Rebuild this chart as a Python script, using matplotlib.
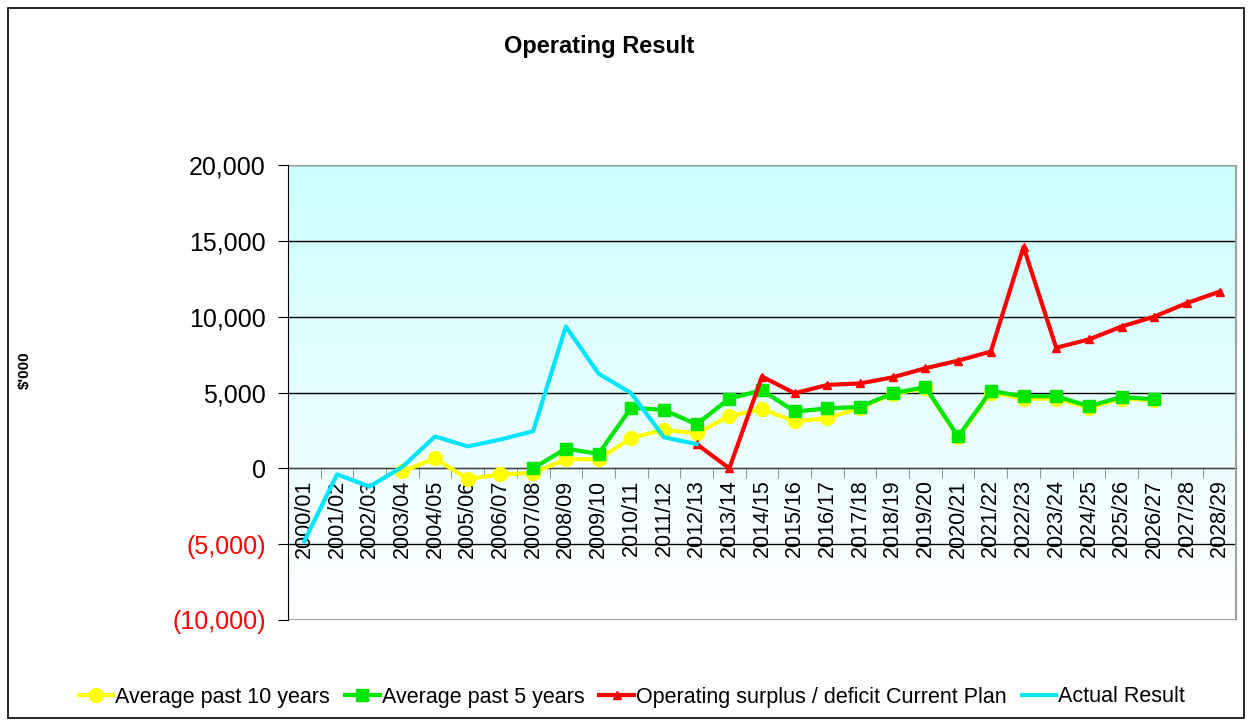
import numpy as np
import matplotlib.pyplot as plt
from matplotlib.patches import Rectangle
from matplotlib.ticker import FuncFormatter, MultipleLocator

plt.rcParams['font.family'] = ['Liberation Sans', 'DejaVu Sans']

years = ['2000/01', '2001/02', '2002/03', '2003/04', '2004/05', '2005/06', '2006/07',
         '2007/08', '2008/09', '2009/10', '2010/11', '2011/12', '2012/13', '2013/14',
         '2014/15', '2015/16', '2016/17', '2017/18', '2018/19', '2019/20', '2020/21',
         '2021/22', '2022/23', '2023/24', '2024/25', '2025/26', '2026/27', '2027/28',
         '2028/29']
nan = np.nan

avg10 = [nan, nan, nan, -200, 650, -700, -400, -300, 600, 600, 2000, 2550, 2300, 3450,
         3900, 3100, 3300, 4000, 4900, 5300, 2050, 5000, 4600, 4600, 4000, 4600, 4500,
         nan, nan]
avg5 = [nan, nan, nan, nan, nan, nan, nan, 0, 1300, 950, 4000, 3850, 2900, 4600,
        5150, 3750, 3950, 4050, 4950, 5350, 2100, 5100, 4750, 4750, 4100, 4700, 4550,
        nan, nan]
plan = [nan, nan, nan, nan, nan, nan, nan, nan, nan, nan, nan, nan, 1600, 0,
        6050, 4950, 5500, 5600, 6000, 6600, 7100, 7700, 14600, 7950, 8500, 9350, 10000,
        10900, 11650]
actual = [-4800, -400, -1200, 100, 2100, 1450, 1900, 2450, 9350, 6250, 4950, 2050, 1600,
          nan, nan, nan, nan, nan, nan, nan, nan, nan, nan, nan, nan, nan, nan, nan, nan]

x = np.arange(len(years))

fig = plt.figure(figsize=(12.48, 7.22), dpi=100)
ax = fig.add_axes([288 / 1248, 1 - 620 / 722, 948 / 1248, 455 / 722])

# background gradient, cyan at top fading to white
grad = np.linspace(0, 1, 256).reshape(-1, 1)
top = np.array([0.80, 1.0, 1.0])
bot = np.array([1.0, 1.0, 1.0])
img = top + (bot - top) * grad[:, :, None] * np.ones((1, 1, 3))
ax.imshow(img, extent=[0, 1, 0, 1], transform=ax.transAxes, aspect='auto', zorder=0)

ax.set_xlim(-0.5, len(years) - 0.5)
ax.set_ylim(-10000, 20000)
ax.yaxis.set_major_locator(MultipleLocator(5000))
for yv in range(-10000, 20001, 5000):
    ax.axhline(yv, color='black', lw=1, zorder=1)

ax.plot(x, avg10, color='#FFFF00', lw=3, marker='o', ms=10, label='Average past 10 years', zorder=3)
ax.plot(x, avg5, color='#00E600', lw=3, marker='s', ms=8, label='Average past 5 years', zorder=4)
ax.plot(x, plan, color='#FF0000', lw=3, marker='^', ms=6,
        label='Operating surplus / deficit Current Plan', zorder=5)
ax.plot(x, actual, color='#00E5FF', lw=3, label='Actual Result', zorder=6)

# axes styling
ax.spines['bottom'].set_position(('data', 0))
ax.spines['bottom'].set_color('#404040')
for s in ['top', 'right']:
    ax.spines[s].set_color('#A0A0A0')
ax.spines['left'].set_color('black')
ax.add_patch(Rectangle((0, 0), 1, 1, transform=ax.transAxes, fill=False,
                       edgecolor='#A0A0A0', lw=1.5, zorder=7))
ax.spines['left'].set_zorder(8)

ax.set_xticks(x)
ax.set_xticklabels(years, rotation=90, fontsize=15.5)
ax.set_xticks(np.arange(-0.5, len(years), 1), minor=True)
ax.tick_params(axis='x', which='major', length=0, pad=8)
ax.tick_params(axis='x', which='minor', length=7, color='#808080', direction='out')


def fmt(v, pos):
    if v < 0:
        return '({:,.0f})'.format(-v)
    return '{:,.0f}'.format(v)


ax.yaxis.set_major_formatter(FuncFormatter(fmt))
ax.tick_params(axis='y', labelsize=18, length=7, pad=9)
for lab, v in zip(ax.get_yticklabels(), ax.get_yticks()):
    if v < 0:
        lab.set_color('red')

fig.text(25 / 1248, 1 - 370 / 722, "$'000", rotation=90, ha='center', va='center',
         fontsize=11, fontweight='bold')
fig.text(599 / 1248, 1 - 46 / 722, 'Operating Result', ha='center', va='center',
         fontsize=17, fontweight='bold')

fig.legend(loc='center', bbox_to_anchor=(632 / 1248, 1 - 697 / 722), ncol=4, frameon=False,
           fontsize=15.5, handlelength=1.6, handletextpad=0.1, columnspacing=0.7)

fig.patches.append(Rectangle((8 / 1248, 4 / 722), 1236 / 1248, 710 / 722,
                             transform=fig.transFigure, fill=False, edgecolor='black', lw=1.2))

fig.savefig('out.png', dpi=100)
